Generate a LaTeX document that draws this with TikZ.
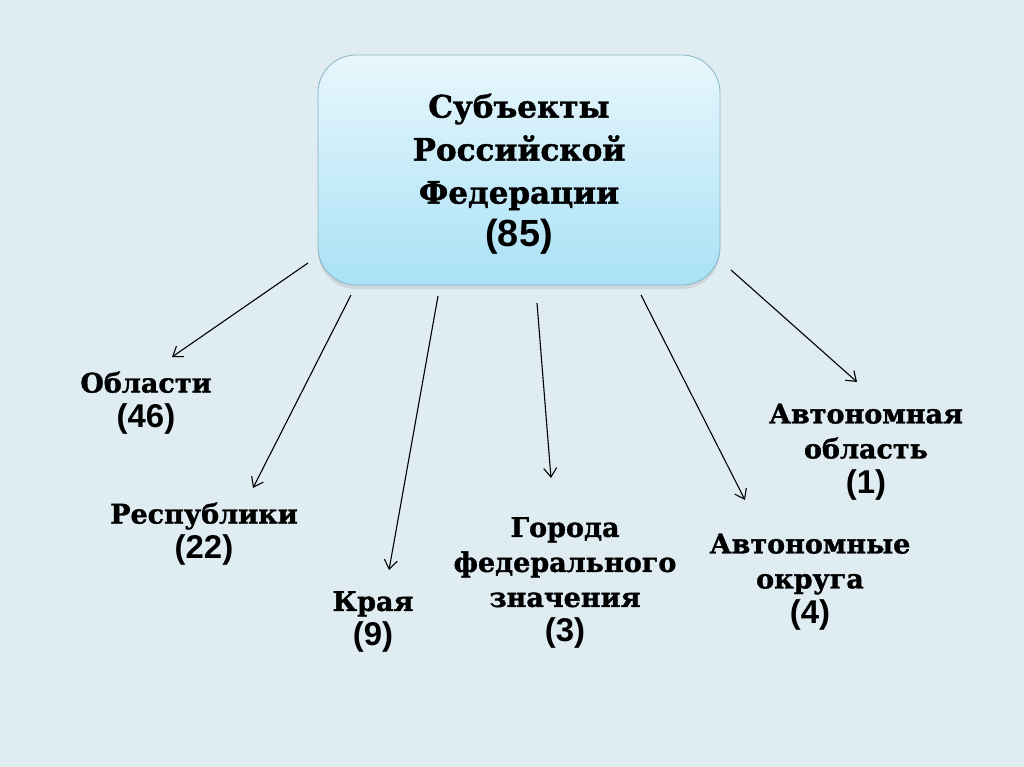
\documentclass[tikz,border=0pt]{standalone}
\usepackage{fontspec}
\setmainfont[BoldFeatures={FakeBold=1.3}]{DejaVu Serif}
\newfontfamily\numfont[Scale=1.22]{Liberation Sans}
\usetikzlibrary{arrows.meta,shadows}
\definecolor{bgblue}{HTML}{DFECF2}
\definecolor{boxtop}{HTML}{E8F7FC}
\definecolor{boxbot}{HTML}{A9E1F6}
\definecolor{boxline}{HTML}{86B6C6}
\newcommand{\num}[1]{{\numfont\bfseries #1}}

\begin{document}
\begin{tikzpicture}[x=1pt,y=-1pt,
    every node/.style={inner sep=0pt,align=center,font=\bfseries\fontsize{27}{35}\selectfont},
    kind/.style={text width=280pt},
    link/.style={line width=1.1pt,-{Straight Barb[length=9pt,width=13pt,line width=1.1pt]}}]
  \fill [bgblue] (0,0) rectangle (1024,767);
  \useasboundingbox (0,0) rectangle (1024,767);
  % main box
  \node (subj) [draw=boxline,line width=0.8pt,rounded corners=38pt,
        top color=boxtop,bottom color=boxbot,
        drop shadow={opacity=0.2,shadow xshift=0pt,shadow yshift=-4pt},
        minimum width=402pt,minimum height=230pt] at (519,170) {};
  \node (subjtext) [font=\bfseries\fontsize{31}{43}\selectfont]
        at ([yshift=-4pt]subj.center)
        {Субъекты\\Российской\\Федерации\\\num{(85)}};
  % kinds of subjects
  \node (obl) [kind] at (146,403) {Области\\\num{(46)}};
  \node (resp) [kind] at (204,534) {Республики\\\num{(22)}};
  \node (kray) [kind] at (373,622) {Края\\\num{(9)}};
  \node (gor) [kind] at (565,583) {Города\\федерального\\значения\\\num{(3)}};
  \node (okr) [kind] at (810,582) {Автономные\\округа\\\num{(4)}};
  \node (ao) [kind] at (866,452) {Автономная\\область\\\num{(1)}};
  % arrow ends
  \coordinate (s1) at (308,263); \coordinate (e1) at (172,357);
  \coordinate (s2) at (351,295); \coordinate (e2) at (253,488);
  \coordinate (s3) at (438,296); \coordinate (e3) at (389,570);
  \coordinate (s4) at (537,303); \coordinate (e4) at (551,478);
  \coordinate (s5) at (641,295); \coordinate (e5) at (745,500);
  \coordinate (s6) at (731,270); \coordinate (e6) at (857,382);
  \draw [link] (s1) -- (e1);
  \draw [link] (s2) -- (e2);
  \draw [link] (s3) -- (e3);
  \draw [link] (s4) -- (e4);
  \draw [link] (s5) -- (e5);
  \draw [link] (s6) -- (e6);
\end{tikzpicture}
\end{document}
